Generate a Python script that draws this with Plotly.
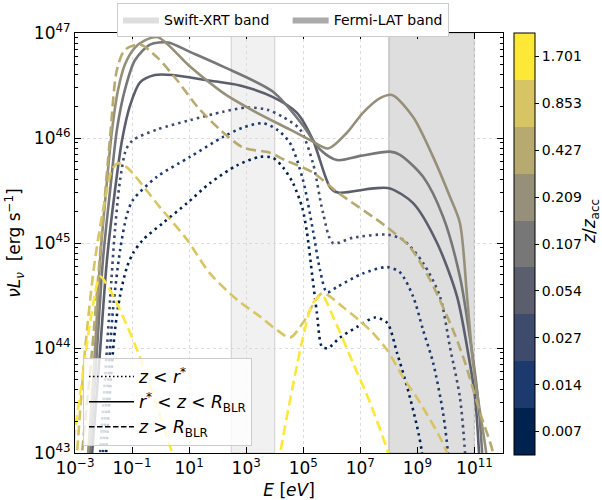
import plotly.graph_objects as go

# ---------------- data (log10 E [eV], log10 nuL_nu [erg/s]) ----------------
z_labels = ["0.007", "0.014", "0.027", "0.054", "0.107", "0.209", "0.427", "0.853", "1.701"]
z_colors = ["#00224e", "#1d3a6e", "#3f4b6c", "#5b5f6d", "#777777", "#968f79", "#b7aa71", "#d7c463", "#fde737"]

# dotted: z < r*
logE_dotC = [-2.00, -1.91, -1.77, -1.60, -1.42, -1.18, -0.97, -0.62, 0.08, 0.93, 1.73, 2.68, 3.48, 3.94, 4.29, 4.64,
             4.96, 5.13, 5.31, 5.48, 5.66, 5.87, 6.29, 6.88, 7.52, 7.94, 8.29, 8.64, 8.99, 9.16, 9.25]
logL_dotC = [42.70, 43.00, 43.60, 44.17, 44.50, 44.77, 44.90, 45.03, 45.19, 45.38, 45.57, 45.74, 45.82, 45.81, 45.72,
             45.57, 45.34, 45.10, 44.70, 44.33, 44.01, 44.00, 44.10, 44.20, 44.29, 44.24, 43.95, 43.63, 43.25, 43.00, 42.60]
logE_dotB = [-2.10, -2.02, -1.84, -1.67, -1.42, -1.18, -0.97, -0.13, 1.03, 2.19, 2.89, 3.59, 4.08, 4.54, 4.99, 5.34,
             5.59, 5.83, 6.18, 7.09, 7.94, 8.39, 8.85, 9.20, 9.55, 9.90, 10.07, 10.15]
logL_dotB = [42.70, 43.00, 43.70, 44.36, 44.93, 45.27, 45.41, 45.63, 45.82, 46.01, 46.10, 46.14, 46.08, 45.95, 45.60,
             45.12, 44.74, 44.53, 44.58, 44.71, 44.77, 44.72, 44.49, 44.17, 43.86, 43.38, 43.00, 42.60]
logE_dotA = [-2.20, -2.12, -1.95, -1.77, -1.60, -1.42, -1.21, -0.97, -0.13, 1.03, 2.19, 3.03, 3.73, 4.29, 4.89, 5.34,
             5.69, 6.04, 6.74, 7.94, 8.50, 9.20, 9.79, 10.14, 10.49, 10.67, 10.75]
logL_dotA = [42.70, 43.00, 43.70, 44.46, 45.12, 45.60, 45.89, 45.98, 46.08, 46.17, 46.25, 46.29, 46.27, 46.20, 46.08,
             45.76, 45.29, 45.00, 45.05, 45.08, 45.03, 44.81, 44.49, 44.01, 43.53, 43.00, 42.60]

# solid: r* < z < R_BLR
logE_s1 = [-2.50, -2.40, -2.12, -1.88, -1.60, -1.35, -1.07, -0.72, -0.20, 0.43, 1.63, 2.78, 3.94, 4.78, 5.34, 5.94,
           6.22, 7.45, 8.04, 8.85, 9.69, 10.39, 10.74, 11.02, 11.16, 11.25]
logL_s1 = [42.70, 43.00, 43.98, 44.84, 45.50, 45.98, 46.31, 46.53, 46.60, 46.60, 46.55, 46.50, 46.39, 46.24, 45.98,
           45.53, 45.48, 45.52, 45.52, 45.38, 45.00, 44.49, 44.01, 43.53, 43.00, 42.50]
logE_s2 = [-2.57, -2.47, -2.23, -2.02, -1.77, -1.53, -1.25, -0.90, -0.37, 0.26, 1.03, 2.19, 3.94, 4.99, 5.59, 6.18,
           7.00, 8.04, 8.39, 9.20, 9.90, 10.49, 10.84, 11.09, 11.27, 11.35]
logL_s2 = [42.70, 43.00, 43.98, 44.84, 45.50, 46.08, 46.46, 46.74, 46.89, 46.91, 46.82, 46.68, 46.44, 46.12, 45.89,
           45.79, 45.83, 45.87, 45.84, 45.63, 45.25, 44.68, 44.10, 43.60, 43.00, 42.50]
logE_s3 = [-2.64, -2.54, -2.30, -2.12, -1.91, -1.70, -1.49, -1.25, -0.90, -0.55, -0.09, 1.03, 2.19, 3.38, 4.54, 5.24,
           5.87, 6.53, 7.09, 7.69, 8.11, 8.85, 9.55, 10.14, 10.49, 10.74, 10.95, 11.20, 11.41, 11.50]
logL_s3 = [42.70, 43.00, 43.98, 44.84, 45.50, 46.08, 46.46, 46.70, 46.86, 46.93, 46.96, 46.68, 46.43, 46.24, 46.08,
           45.98, 45.90, 46.05, 46.24, 46.38, 46.41, 46.20, 45.82, 45.44, 45.19, 44.49, 43.86, 43.38, 43.00, 42.60]

# dashed: z > R_BLR
logE_d1 = [-2.85, -2.75, -2.40, -2.09, -1.77, -1.53, -1.25, -0.72, -0.13, 0.58, 1.28, 2.08, 2.89, 3.83, 4.36, 5.34,
           6.22, 7.94, 8.74, 9.44, 10.25, 10.67, 11.20, 11.65, 11.80]
logL_d1 = [42.60, 43.00, 43.98, 45.00, 46.01, 46.65, 46.84, 46.89, 46.77, 46.55, 46.30, 46.08, 45.91, 45.86, 45.79,
           45.67, 45.48, 45.15, 44.96, 44.65, 44.17, 43.86, 43.38, 43.00, 42.60]
logE_d2 = [-3.05, -2.93, -2.65, -2.30, -1.95, -1.70, -1.49, -1.18, -0.02, 0.93, 1.73, 2.68, 3.48, 4.08, 4.54, 4.99,
           5.66, 6.39, 7.34, 7.94, 8.50, 9.09, 10.04, 10.30]
logL_d2 = [42.60, 43.00, 43.98, 44.84, 45.41, 45.70, 45.76, 45.72, 45.34, 45.03, 44.71, 44.46, 44.30, 44.17, 44.10,
           44.24, 44.52, 44.39, 44.17, 43.98, 43.72, 43.48, 43.00, 42.60]
logE_d3 = [-3.20, -3.10, -2.75, -2.40, -2.12, -1.77, -1.32, -0.72, -0.20, 0.40, 0.60, None,
           4.05, 4.19, 4.99, 5.34, 5.66, 6.04, 6.74, 7.34, 7.97, 8.10]
logL_d3 = [42.70, 43.00, 43.70, 44.36, 44.68, 44.55, 44.30, 43.91, 43.50, 43.00, 42.75, None,
           42.75, 43.00, 44.10, 44.43, 44.50, 44.30, 43.86, 43.48, 43.00, 42.80]

swift_band = [3e2, 1e4]
fermi_band = [1e8, 1e11]

x_tick_exp = [-3, -1, 1, 3, 5, 7, 9, 11]
y_tick_exp = [43, 44, 45, 46, 47]

curves = [
    (logE_dotC, logL_dotC, 0, "dot"),
    (logE_dotB, logL_dotB, 1, "dot"),
    (logE_dotA, logL_dotA, 2, "dot"),
    (logE_s1, logL_s1, 3, "solid"),
    (logE_s2, logL_s2, 4, "solid"),
    (logE_s3, logL_s3, 5, "solid"),
    (logE_d1, logL_d1, 6, "dash"),
    (logE_d2, logL_d2, 7, "dash"),
    (logE_d3, logL_d3, 8, "dash"),
]
dash_map = {"dot": "2.5px,4px", "solid": "solid", "dash": "10px,5px"}


def pw(v):
    return None if v is None else 10.0 ** v


fig = go.Figure()

for lx, ly, ci, style in curves:
    fig.add_trace(go.Scatter(
        x=[pw(v) for v in lx], y=[pw(v) for v in ly], mode="lines",
        line=dict(color=z_colors[ci], width=2.6, dash=dash_map[style], shape="spline", smoothing=0.8),
        showlegend=False, hoverinfo="skip"))

# band legend entries
nb = "\u00a0" * 3
fig.add_trace(go.Scatter(x=[None], y=[None], fill="toself", fillcolor="#dedede", mode="lines",
                         line=dict(width=0, color="#dedede"), name="Swift-XRT band" + nb, legend="legend"))
fig.add_trace(go.Scatter(x=[None], y=[None], fill="toself", fillcolor="#aaaaaa", mode="lines",
                         line=dict(width=0, color="#aaaaaa"), name="Fermi-LAT band", legend="legend"))

# line-style legend entries
fig.add_trace(go.Scatter(x=[None], y=[None], mode="lines", line=dict(color="black", width=1.5, dash="1.5px,2.5px"),
                         name="<i>z</i> < <i>r</i><sup>*</sup>", legend="legend2"))
fig.add_trace(go.Scatter(x=[None], y=[None], mode="lines", line=dict(color="black", width=1.5),
                         name="<i>r</i><sup>*</sup> < <i>z</i> < <i>R</i><sub>BLR</sub>", legend="legend2"))
fig.add_trace(go.Scatter(x=[None], y=[None], mode="lines", line=dict(color="black", width=1.5, dash="5.5px,2.5px"),
                         name="<i>z</i> > <i>R</i><sub>BLR</sub>", legend="legend2"))

# colorbar
n = len(z_colors)
cscale = []
for i, c in enumerate(z_colors):
    cscale.append([i / n, c])
    cscale.append([(i + 1) / n, c])
fig.add_trace(go.Scatter(
    x=[None], y=[None], mode="markers", showlegend=False, hoverinfo="skip",
    marker=dict(color=[0], cmin=0, cmax=n, colorscale=cscale, showscale=True,
                colorbar=dict(x=(514 - 75) / 428, xanchor="left", xpad=0, ypad=0,
                              y=1.0, yanchor="top", lenmode="pixels", len=422,
                              thickness=21, outlinecolor="black", outlinewidth=1,
                              tickvals=[i + 0.5 for i in range(n)], ticktext=z_labels,
                              ticks="outside", ticklen=4, tickcolor="black",
                              tickfont=dict(size=14, family="DejaVu Sans", color="black")))))

# bands
fig.add_shape(type="rect", xref="x", yref="paper", x0=swift_band[0], x1=swift_band[1], y0=0, y1=1,
              fillcolor="rgba(128,128,128,0.11)", line=dict(color="rgba(128,128,128,0.28)", width=1.2), layer="below")
fig.add_shape(type="rect", xref="x", yref="paper", x0=fermi_band[0], x1=fermi_band[1], y0=0, y1=1,
              fillcolor="rgba(128,128,128,0.26)", line=dict(color="rgba(128,128,128,0.45)", width=1.2), layer="below")

minor_y = [k * 10.0 ** e for e in range(43, 47) for k in range(2, 10)]

axis_common = dict(type="log", showline=True, linecolor="black", linewidth=1, mirror="ticks",
                   ticks="inside", ticklen=6, tickwidth=1, tickcolor="black",
                   showgrid=True, gridcolor="#dcdcdc", griddash="dot", gridwidth=0.8, zeroline=False,
                   tickfont=dict(size=17, family="DejaVu Sans", color="black"))

fig.update_layout(
    width=602, height=500, autosize=False,
    margin=dict(l=75, r=99, t=33, b=47, autoexpand=False),
    paper_bgcolor="white", plot_bgcolor="white",
    font=dict(family="DejaVu Sans", size=17, color="black"),
    xaxis=dict(**axis_common, range=[-3, 12],
               tickvals=[10.0 ** e for e in x_tick_exp],
               ticktext=["10<sup>%s</sup>" % (str(e).replace("-", "−")) for e in x_tick_exp],
               title=dict(text="<i>E</i> [<i>eV</i>]", standoff=6, font=dict(size=17))),
    yaxis=dict(**axis_common, range=[43, 47],
               tickvals=[10.0 ** e for e in y_tick_exp],
               ticktext=["10<sup>%d</sup>" % e for e in y_tick_exp],
               minor=dict(tickvals=minor_y, ticks="inside", ticklen=3, tickcolor="black", showgrid=False),
               title=dict(text="<i>νL<sub>ν</sub></i>  [erg s<sup>−1</sup>]", standoff=8, font=dict(size=17))),
    legend=dict(x=(117 - 75) / 428, xanchor="left", y=(453 - 3) / 420, yanchor="top",
                orientation="h", bgcolor="white", bordercolor="#cccccc", borderwidth=1,
                itemwidth=36,
                font=dict(size=14, family="DejaVu Sans", color="black")),
    legend2=dict(x=(83 - 75) / 428, xanchor="left", y=(453 - 446) / 420, yanchor="bottom",
                 bgcolor="rgba(255,255,255,0.8)", bordercolor="#cccccc", borderwidth=1,
                 itemwidth=45,
                 font=dict(size=17, family="DejaVu Sans", color="black")),
    annotations=[dict(text="<i>z</i>/<i>z</i><sub>acc</sub>", xref="paper", yref="paper",
                      x=(591 - 75) / 428, y=(453 - 222) / 420, xanchor="center", yanchor="middle",
                      showarrow=False, textangle=-90,
                      font=dict(size=17, family="DejaVu Sans", color="black"))],
)

fig.write_html("out.html")
